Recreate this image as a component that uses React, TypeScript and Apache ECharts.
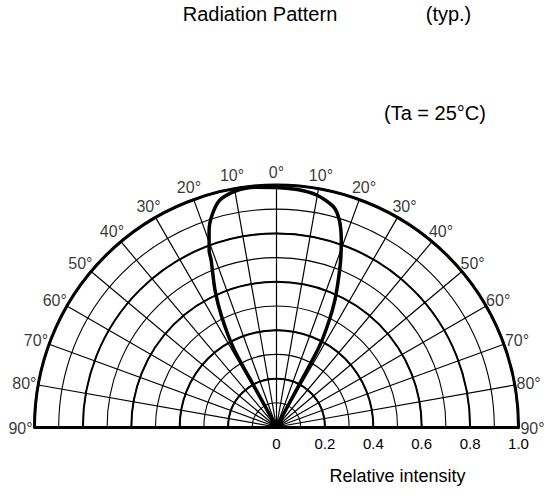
import React, { useEffect, useRef } from 'react';
import * as echarts from 'echarts';

// Radius tick labels (relative intensity)
const radiusTickLabels = ['0', '0.2', '0.4', '0.6', '0.8', '1.0'];
// Angle tick values (deg from optical axis; left side positive on this axis)
const angleTickValues = [-90, -80, -70, -60, -50, -40, -30, -20, -10, 0, 10, 20, 30, 40, 50, 60, 70, 80, 90];

// Radiation pattern: angle from the optical axis (deg) and relative intensity
// Left half, from the centre outwards to the top
const leftAngles = [29.0, 28.8, 28.6, 26.4, 24.2, 21.4, 20.9, 18.9, 16.7, 14.0, 9.9, 5.0, 0];
const leftIntensity = [0.0, 0.2, 0.37, 0.51, 0.62, 0.74, 0.78, 0.86, 0.92, 0.967, 0.99, 0.995, 0.99];
// Right half, from the top down to the centre
const rightAngles = [5.0, 9.8, 14.5, 16.9, 19.1, 21.0, 22.8, 24.7, 26.3, 28.0, 28.2, 28.4];
const rightIntensity = [0.985, 0.973, 0.94, 0.893, 0.818, 0.74, 0.659, 0.578, 0.493, 0.38, 0.2, 0.0];

const FONT = 'Liberation Sans, Arial, Helvetica, sans-serif';

export default function App() {
  const ref = useRef<HTMLDivElement>(null);

  useEffect(() => {
    if (!ref.current) return;
    const chart = echarts.init(ref.current, null, { renderer: 'svg' });

    // left side: positive angle values, right side: negative (axis runs counter-clockwise from right)
    const curve: [number, number][] = [];
    leftAngles.forEach((a, i) => curve.push([leftIntensity[i], a]));
    rightAngles.forEach((a, i) => curve.push([rightIntensity[i], -a]));

    const center = [276.5, 427];
    const radius = 242;

    const halfAngleAxis = {
      type: 'value',
      startAngle: 0,
      endAngle: 180,
      clockwise: false,
      min: -90,
      max: 90,
      interval: 10,
    };

    chart.setOption({
      animation: false,
      backgroundColor: '#fff',
      textStyle: { fontFamily: FONT, color: '#000' },
      polar: [
        { center, radius },
        { center, radius },
        { center, radius: 256 },
      ],
      angleAxis: [
        {
          ...halfAngleAxis,
          polarIndex: 0,
          axisLine: { show: true, lineStyle: { color: '#000', width: 3 } },
          axisTick: { show: false },
          axisLabel: { show: false },
          splitLine: { show: true, lineStyle: { color: '#000', width: 1.2 } },
        },
        {
          polarIndex: 1,
          type: 'value',
          startAngle: 180,
          endAngle: 0,
          clockwise: true,
          min: -90,
          max: 90,
          interval: 10,
          axisLine: { show: false },
          axisTick: { show: false },
          axisLabel: { show: false },
          splitLine: { show: false },
        },
        {
          ...halfAngleAxis,
          polarIndex: 2,
          axisLine: { show: false },
          axisTick: { show: false },
          axisLabel: { show: false },
          splitLine: { show: false },
        },
      ],
      radiusAxis: [
        {
          polarIndex: 0,
          type: 'value',
          min: 0,
          max: 1,
          interval: 0.2,
          axisLine: { show: true, lineStyle: { color: '#000', width: 3 } },
          axisTick: { show: false },
          axisLabel: {
            show: true,
            margin: -24,
            color: '#000',
            fontSize: 15,
            fontFamily: FONT,
            formatter: (v: number) => radiusTickLabels[Math.round(v / 0.2)],
          },
          splitLine: { show: true, lineStyle: { color: '#000', width: 2 } },
          name: 'Relative intensity',
          nameLocation: 'middle',
          nameGap: 40,
          nameTextStyle: { color: '#000', fontSize: 18, fontFamily: FONT },
          z: 3,
        },
        {
          polarIndex: 1,
          type: 'value',
          min: 0,
          max: 1,
          interval: 0.1,
          axisLine: { show: true, lineStyle: { color: '#000', width: 3 } },
          axisTick: { show: false },
          axisLabel: { show: false },
          splitLine: { show: true, lineStyle: { color: '#000', width: 1.1 } },
        },
        {
          polarIndex: 2,
          type: 'value',
          min: 0,
          max: 1,
          axisLine: { show: false },
          axisTick: { show: false },
          axisLabel: { show: false },
          splitLine: { show: false },
        },
      ],
      graphic: [
        {
          type: 'text',
          x: 260,
          y: 14,
          style: { text: 'Radiation Pattern', font: `20px ${FONT}`, fill: '#000', textAlign: 'center', textVerticalAlign: 'middle' },
        },
        {
          type: 'text',
          x: 448.5,
          y: 14,
          style: { text: '(typ.)', font: `20px ${FONT}`, fill: '#000', textAlign: 'center', textVerticalAlign: 'middle' },
        },
        {
          type: 'text',
          x: 435,
          y: 113,
          style: { text: '(Ta = 25°C)', font: `20px ${FONT}`, fill: '#000', textAlign: 'center', textVerticalAlign: 'middle' },
        },
      ],
      series: [
        {
          type: 'line',
          coordinateSystem: 'polar',
          polarIndex: 0,
          data: curve,
          showSymbol: false,
          symbol: 'none',
          smooth: 0.25,
          lineStyle: { color: '#000', width: 3.5 },
          z: 10,
        },
        {
          // angle-axis tick labels, centred on a circle just outside the chart
          type: 'scatter',
          coordinateSystem: 'polar',
          polarIndex: 2,
          data: angleTickValues.map((a) => [1, a]),
          symbolSize: 0,
          silent: true,
          label: {
            show: true,
            position: 'inside',
            offset: [0, 1],
            color: '#000',
            textBorderWidth: 0,
            textBorderColor: 'transparent',
            fontSize: 16,
            fontFamily: FONT,
            formatter: (p: any) => Math.abs(p.value[1]) + '°',
          },
          z: 5,
        },
      ],
    });

    return () => chart.dispose();
  }, []);

  return (
    <div
      ref={ref}
      style={{ position: 'fixed', left: 0, top: 0, width: 545, height: 495, background: '#fff' }}
    />
  );
}
